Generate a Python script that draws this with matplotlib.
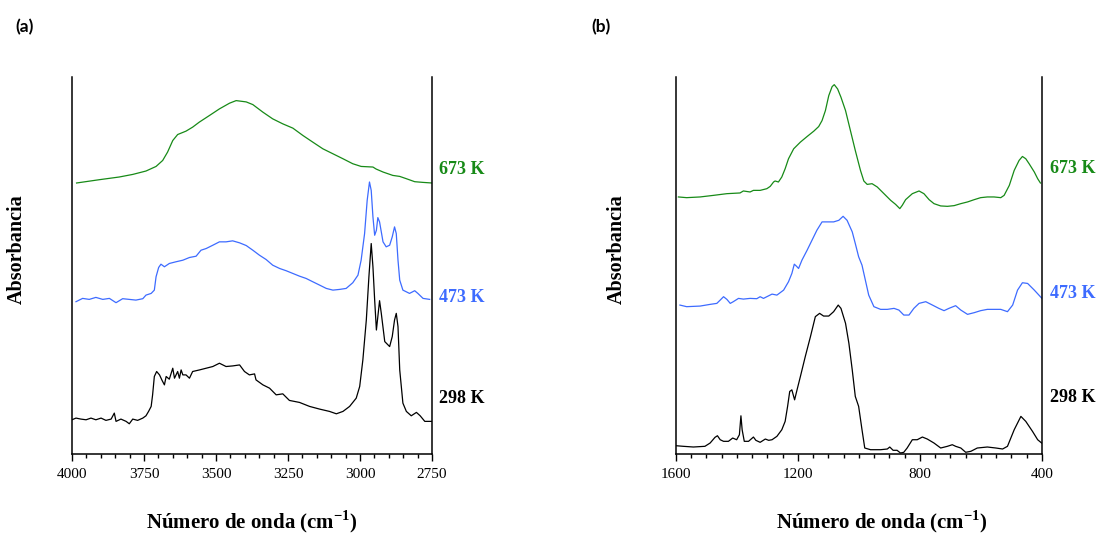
import numpy as np
import matplotlib.pyplot as plt
from matplotlib.ticker import MultipleLocator

plt.rcParams['font.family'] = ['Liberation Serif', 'DejaVu Serif']
plt.rcParams['mathtext.fontset'] = 'custom'
plt.rcParams['mathtext.rm'] = 'Liberation Serif'
plt.rcParams['mathtext.bf'] = 'Liberation Serif:bold'

# ---- panel (a): 4000-2750 cm-1 ----
wn_a_298 = [4000, 3986, 3969, 3951, 3934, 3917, 3899, 3882, 3864, 3853,
            3847, 3830, 3812, 3801, 3789, 3772, 3754, 3743, 3734, 3725,
            3720, 3714, 3706, 3696, 3687, 3679, 3673, 3662, 3650, 3644,
            3633, 3627, 3621, 3615, 3604, 3592, 3581, 3557, 3534, 3511,
            3488, 3465, 3442, 3418, 3401, 3384, 3366, 3361, 3337, 3314,
            3291, 3268, 3245, 3210, 3175, 3140, 3106, 3082, 3059, 3036,
            3013, 3001, 2990, 2978, 2969, 2961, 2955, 2949, 2943, 2938,
            2932, 2926, 2914, 2897, 2888, 2880, 2874, 2868, 2862, 2851,
            2839, 2822, 2804, 2791, 2775, 2750]
abs_a_298 = [0.343, 0.360, 0.350, 0.343, 0.360, 0.343, 0.360, 0.337, 0.350, 0.410,
             0.327, 0.350, 0.327, 0.303, 0.350, 0.337, 0.360, 0.383, 0.427, 0.477,
             0.593, 0.777, 0.827, 0.793, 0.737, 0.693, 0.777, 0.75, 0.86, 0.76,
             0.827, 0.76, 0.843, 0.793, 0.793, 0.76, 0.827, 0.843, 0.86, 0.877,
             0.91, 0.877, 0.883, 0.893, 0.827, 0.793, 0.803, 0.743, 0.693, 0.66,
             0.593, 0.603, 0.537, 0.517, 0.477, 0.45, 0.427, 0.403, 0.427, 0.477,
             0.56, 0.677, 0.943, 1.343, 1.777, 2.11, 1.877, 1.543, 1.243, 1.377,
             1.537, 1.41, 1.127, 1.077, 1.177, 1.343, 1.41, 1.277, 0.843, 0.51,
             0.427, 0.383, 0.417, 0.383, 0.327, 0.327]

wn_a_473 = [3986, 3963, 3940, 3917, 3893, 3870, 3847, 3824, 3801, 3778,
            3754, 3743, 3725, 3714, 3708, 3699, 3691, 3679, 3662, 3639,
            3615, 3592, 3569, 3552, 3534, 3511, 3488, 3465, 3442, 3418,
            3395, 3372, 3349, 3326, 3303, 3279, 3256, 3233, 3210, 3187,
            3164, 3140, 3117, 3094, 3071, 3048, 3025, 3007, 2996, 2984,
            2975, 2967, 2961, 2955, 2949, 2943, 2938, 2932, 2920, 2909,
            2897, 2888, 2880, 2874, 2868, 2862, 2851, 2828, 2810, 2799,
            2781, 2758]
abs_a_473 = [1.527, 1.56, 1.55, 1.57, 1.55, 1.56, 1.517, 1.557, 1.55, 1.543,
             1.557, 1.593, 1.61, 1.643, 1.777, 1.87, 1.903, 1.877, 1.91, 1.927,
             1.943, 1.97, 1.983, 2.043, 2.06, 2.093, 2.127, 2.127, 2.137, 2.117,
             2.09, 2.043, 1.993, 1.95, 1.893, 1.86, 1.837, 1.81, 1.783, 1.76,
             1.727, 1.693, 1.66, 1.643, 1.65, 1.66, 1.717, 1.793, 1.943, 2.21,
             2.543, 2.727, 2.643, 2.377, 2.193, 2.243, 2.37, 2.327, 2.127, 2.077,
             2.093, 2.177, 2.277, 2.21, 1.943, 1.743, 1.643, 1.61, 1.637, 1.61,
             1.56, 1.55]

wn_a_673 = [3984, 3905, 3836, 3789, 3743, 3708, 3685, 3668, 3650, 3633,
            3604, 3581, 3558, 3523, 3488, 3453, 3430, 3395, 3372, 3337,
            3303, 3268, 3233, 3198, 3164, 3129, 3094, 3059, 3025, 2996,
            2955, 2944, 2920, 2886, 2862, 2839, 2810, 2781, 2750]
abs_a_673 = [2.717, 2.75, 2.777, 2.803, 2.837, 2.883, 2.943, 3.027, 3.143, 3.203,
             3.237, 3.277, 3.327, 3.393, 3.46, 3.517, 3.543, 3.53, 3.503, 3.427,
             3.36, 3.31, 3.267, 3.193, 3.127, 3.06, 3.01, 2.96, 2.91, 2.883,
             2.877, 2.857, 2.827, 2.793, 2.783, 2.76, 2.73, 2.723, 2.717]

# ---- panel (b): 1600-400 cm-1 ----
wn_b_298 = [1600, 1576, 1543, 1505, 1488, 1472, 1464, 1455, 1444, 1428,
            1414, 1401, 1392, 1387, 1383, 1376, 1362, 1346, 1338, 1324,
            1307, 1296, 1285, 1269, 1253, 1242, 1234, 1227, 1220, 1211,
            1203, 1192, 1176, 1159, 1143, 1129, 1116, 1099, 1083, 1068,
            1059, 1044, 1033, 1022, 1012, 1001, 990, 981, 962, 929,
            907, 899, 888, 875, 864, 853, 842, 825, 809, 792,
            776, 754, 732, 710, 694, 683, 666, 650, 633, 612,
            579, 551, 529, 513, 491, 469, 453, 431, 414, 401]
abs_b_298 = [0.083, 0.077, 0.07, 0.077, 0.11, 0.167, 0.183, 0.143, 0.127, 0.127,
             0.16, 0.143, 0.193, 0.383, 0.243, 0.127, 0.127, 0.17, 0.137, 0.117,
             0.15, 0.137, 0.143, 0.177, 0.243, 0.327, 0.477, 0.627, 0.643, 0.543,
             0.643, 0.777, 0.977, 1.177, 1.377, 1.41, 1.383, 1.383, 1.427, 1.493,
             1.46, 1.31, 1.11, 0.843, 0.577, 0.477, 0.243, 0.06, 0.043, 0.043,
             0.05, 0.07, 0.037, 0.037, 0.01, 0.017, 0.06, 0.143, 0.143, 0.17,
             0.15, 0.11, 0.06, 0.077, 0.093, 0.077, 0.06, 0.017, 0.027, 0.06,
             0.07, 0.06, 0.05, 0.077, 0.243, 0.377, 0.327, 0.227, 0.143, 0.11]

wn_b_473 = [1587, 1565, 1521, 1488, 1466, 1455, 1444, 1433, 1422, 1412,
            1395, 1379, 1357, 1335, 1324, 1313, 1302, 1285, 1269, 1247,
            1231, 1220, 1212, 1205, 1198, 1187, 1170, 1154, 1138, 1121,
            1105, 1083, 1066, 1052, 1039, 1022, 1012, 1001, 990, 979,
            968, 951, 929, 907, 885, 869, 853, 836, 820, 803,
            781, 759, 738, 721, 705, 683, 666, 644, 622, 601,
            579, 557, 535, 513, 496, 480, 464, 447, 425, 400]
abs_b_473 = [1.493, 1.477, 1.483, 1.5, 1.51, 1.543, 1.577, 1.55, 1.51, 1.527,
             1.56, 1.553, 1.56, 1.557, 1.577, 1.56, 1.577, 1.603, 1.593, 1.643,
             1.727, 1.81, 1.903, 1.883, 1.86, 1.943, 2.043, 2.143, 2.243, 2.327,
             2.327, 2.327, 2.343, 2.383, 2.343, 2.227, 2.11, 1.977, 1.893, 1.743,
             1.593, 1.477, 1.45, 1.45, 1.46, 1.443, 1.393, 1.393, 1.46, 1.51,
             1.527, 1.493, 1.46, 1.437, 1.46, 1.487, 1.443, 1.4, 1.417, 1.437,
             1.45, 1.45, 1.45, 1.427, 1.493, 1.643, 1.717, 1.71, 1.643, 1.56]

wn_b_673 = [1592, 1565, 1521, 1477, 1433, 1390, 1379, 1357, 1346, 1324,
            1302, 1291, 1280, 1275, 1264, 1253, 1242, 1231, 1214, 1192,
            1170, 1148, 1132, 1121, 1110, 1099, 1088, 1081, 1070, 1059,
            1044, 1028, 1012, 995, 984, 973, 957, 940, 918, 896,
            880, 866, 858, 847, 825, 803, 787, 770, 754, 732,
            710, 688, 666, 644, 622, 601, 579, 557, 535, 524,
            507, 491, 475, 464, 453, 442, 425, 414, 405]
abs_b_673 = [2.577, 2.57, 2.577, 2.593, 2.61, 2.617, 2.637, 2.627, 2.643, 2.643,
             2.66, 2.683, 2.727, 2.737, 2.727, 2.777, 2.86, 2.96, 3.06, 3.127,
             3.183, 3.237, 3.283, 3.343, 3.443, 3.593, 3.683, 3.703, 3.66, 3.577,
             3.443, 3.243, 3.043, 2.843, 2.737, 2.703, 2.71, 2.677, 2.61, 2.543,
             2.503, 2.46, 2.493, 2.55, 2.61, 2.637, 2.61, 2.55, 2.51, 2.487,
             2.483, 2.49, 2.51, 2.527, 2.55, 2.57, 2.577, 2.577, 2.57, 2.593,
             2.693, 2.843, 2.943, 2.983, 2.96, 2.91, 2.827, 2.76, 2.717]

temps = ['298 K', '473 K', '673 K']
colors = ['black', '#3d6bff', '#178a17']

fig = plt.figure(figsize=(11.02, 5.36), dpi=100)
ax1 = fig.add_axes([0.0653, 0.153, 0.3267, 0.7034])
ax2 = fig.add_axes([0.6134, 0.153, 0.3321, 0.7034])


def setup(ax, xlim, major, xlab_x, xlab_y, ylab_x):
    ax.set_xlim(xlim)
    ax.set_ylim(0, 3.78)
    ax.xaxis.set_major_locator(MultipleLocator(major))
    ax.xaxis.set_minor_locator(MultipleLocator(50))
    ax.tick_params(axis='x', which='major', direction='out', length=5, width=1,
                   labelsize=11, pad=5)
    ax.tick_params(axis='x', which='minor', direction='out', length=3, width=1)
    ax.set_yticks([])
    ax.spines['top'].set_visible(False)
    for s in ['left', 'right', 'bottom']:
        ax.spines[s].set_linewidth(1.1)
    ax.set_xlabel(r'Número de onda (cm$^{\mathbf{-1}}$)', fontsize=15, fontweight='bold')
    ax.xaxis.set_label_coords(xlab_x, xlab_y)
    ax.set_ylabel('Absorbancia', fontsize=14.5, fontweight='bold')
    ax.yaxis.set_label_coords(ylab_x, 0.544)


setup(ax1, (4000, 2750), 250, 0.5, -0.145, -0.125)
setup(ax2, (1600, 400), 400, 0.563, -0.145, -0.134)

ax1.plot(wn_a_298, abs_a_298, color=colors[0], lw=0.9)
ax1.plot(wn_a_473, abs_a_473, color=colors[1], lw=0.9)
ax1.plot(wn_a_673, abs_a_673, color=colors[2], lw=0.9)

ax2.plot(wn_b_298, abs_b_298, color=colors[0], lw=0.9)
ax2.plot(wn_b_473, abs_b_473, color=colors[1], lw=0.9)
ax2.plot(wn_b_673, abs_b_673, color=colors[2], lw=0.9)

# temperature labels to the right of each panel
for ax, ys, dx in [(ax1, [0.56, 1.57, 2.85], 1.02), (ax2, [0.57, 1.61, 2.86], 1.022)]:
    for t, c, y in zip(temps, colors, ys):
        ax.text(dx, y, t, color=c, fontsize=13, fontweight='bold',
                va='center', ha='left', transform=ax.get_yaxis_transform())

fig.text(0.022, 0.95, '(a)', fontsize=12.5, fontweight='bold', family='Lato', ha='center', va='center')
fig.text(0.545, 0.95, '(b)', fontsize=12.5, fontweight='bold', family='Lato', ha='center', va='center')

plt.savefig('out.png', dpi=100)
